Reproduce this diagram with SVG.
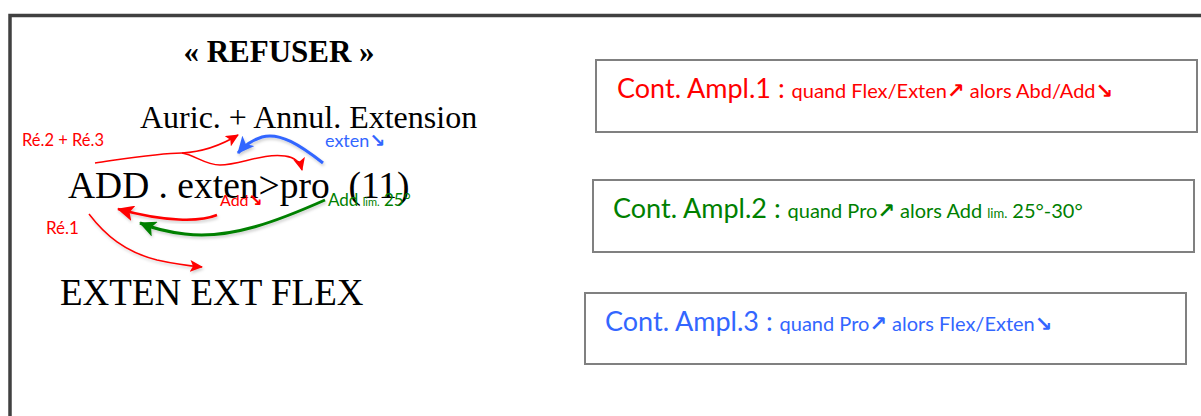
<svg xmlns="http://www.w3.org/2000/svg" width="1201" height="416" viewBox="0 0 1201 416">
<style>
.serif{font-family:"Liberation Serif","Times New Roman",serif;fill:#000}
.cal{font-family:Lato,"Open Sans",sans-serif}
.arr{font-family:"DejaVu Sans",sans-serif;font-weight:bold}
.box{fill:#fff;stroke:#808080;stroke-width:2}
.red{fill:#ff0000}.green{fill:#008000}.blue{fill:#3366ff}
.thin{fill:none;stroke:#ff0000;stroke-width:1.5}
</style>
<defs>
<marker id="hr" markerUnits="userSpaceOnUse" markerWidth="14" markerHeight="12" refX="12" refY="6" orient="auto"><path d="M0,0 L13,6 L0,12 L3,6 z" fill="#ff0000"/></marker>
<marker id="hrb" markerUnits="userSpaceOnUse" markerWidth="18" markerHeight="16" refX="16" refY="8" orient="auto"><path d="M0,0 L17,8 L0,16 L4,8 z" fill="#ff0000"/></marker>
<marker id="hb" markerUnits="userSpaceOnUse" markerWidth="18" markerHeight="16" refX="16" refY="8" orient="auto"><path d="M0,0 L17,8 L0,16 L4,8 z" fill="#3366ff"/></marker>
<marker id="hg" markerUnits="userSpaceOnUse" markerWidth="18" markerHeight="16" refX="16" refY="8" orient="auto"><path d="M0,0 L17,8 L0,16 L4,8 z" fill="#008000"/></marker>
<filter id="sh" x="-20%" y="-20%" width="140%" height="160%"><feDropShadow dx="1" dy="2" stdDeviation="1.5" flood-color="#000" flood-opacity="0.2"/></filter>
</defs>
<rect x="0" y="0" width="1201" height="416" fill="#fff"/>
<path d="M10,440 L10,15.5 L1210,15.5" fill="none" stroke="#404040" stroke-width="3.5"/>

<g id="title"><text class="serif" x="279" y="62" font-size="31" font-weight="bold" text-anchor="middle">« REFUSER »</text></g>
<g id="auric"><text class="serif" x="140" y="128" font-size="32">Auric. + Annul. Extension</text></g>
<g id="add"><text class="serif" x="68" y="198" font-size="37.5" xml:space="preserve">ADD . exten&gt;pro  (11)</text></g>
<g id="exten"><text class="serif" x="60" y="305" font-size="37">EXTEN EXT FLEX</text></g>

<g id="labels">
<text class="cal red" x="22" y="146" font-size="16.5">Ré.2 + Ré.3</text>
<text class="cal blue" x="325" y="147" font-size="18">exten<tspan class="arr" font-size="19">↘</tspan></text>
<text class="cal red" x="220" y="206" font-size="16">Add<tspan class="arr" font-size="17">↘</tspan></text>
<text class="cal green" x="328" y="206" font-size="17">Add <tspan font-size="11">lim.</tspan> 25°</text>
<text class="cal red" x="46" y="234" font-size="17">Ré.1</text>
</g>

<g id="connectors">
<path class="thin" d="M95,163 C130,158 160,153 182,153"/>
<path class="thin" d="M182,153 C200,152 220,146 238,135" marker-end="url(#hr)"/>
<path class="thin" d="M182,153 C195,155 205,165 220,165 C240,165 262,153 285,156 C294,157 300,162 302,170" marker-end="url(#hr)"/>
<path d="M323,163 C300,145 280,132 262,137 C252,140 244,146 238,153" fill="none" stroke="#3366ff" stroke-width="3" marker-end="url(#hb)" filter="url(#sh)"/>
<path d="M217,215 C200,222 165,222 118,209" fill="none" stroke="#ff0000" stroke-width="2.5" marker-end="url(#hrb)" filter="url(#sh)"/>
<path d="M325,200 C280,220 230,240 185,234 C168,232 152,228 140,223" fill="none" stroke="#008000" stroke-width="3" marker-end="url(#hg)" filter="url(#sh)"/>
<path class="thin" d="M89,214 C105,235 125,252 157,260 C175,264 190,266 202,267" marker-end="url(#hr)" filter="url(#sh)"/>
<path d="M85,205 L132,205" stroke="#ff0000" stroke-width="3" filter="url(#sh)"/>
</g>

<g id="box1">
<rect class="box" x="596" y="60" width="601" height="72"/>
<text class="cal red" x="617" y="98" font-size="27">Cont. Ampl.1 : <tspan font-size="20">quand Flex/Exten<tspan class="arr" font-size="21">↗</tspan> alors Abd/Add<tspan class="arr" font-size="21">↘</tspan></tspan></text>
</g>
<g id="box2">
<rect class="box" x="593" y="180" width="601" height="72"/>
<text class="cal green" x="613" y="218" font-size="27">Cont. Ampl.2 : <tspan font-size="20">quand Pro<tspan class="arr" font-size="21">↗</tspan> alors Add <tspan font-size="13">lim.</tspan> 25°-30°</tspan></text>
</g>
<g id="box3">
<rect class="box" x="585" y="293" width="601" height="71"/>
<text class="cal blue" x="605" y="331" font-size="27">Cont. Ampl.3 : <tspan font-size="20">quand Pro<tspan class="arr" font-size="21">↗</tspan> alors Flex/Exten<tspan class="arr" font-size="21">↘</tspan></tspan></text>
</g>
</svg>
